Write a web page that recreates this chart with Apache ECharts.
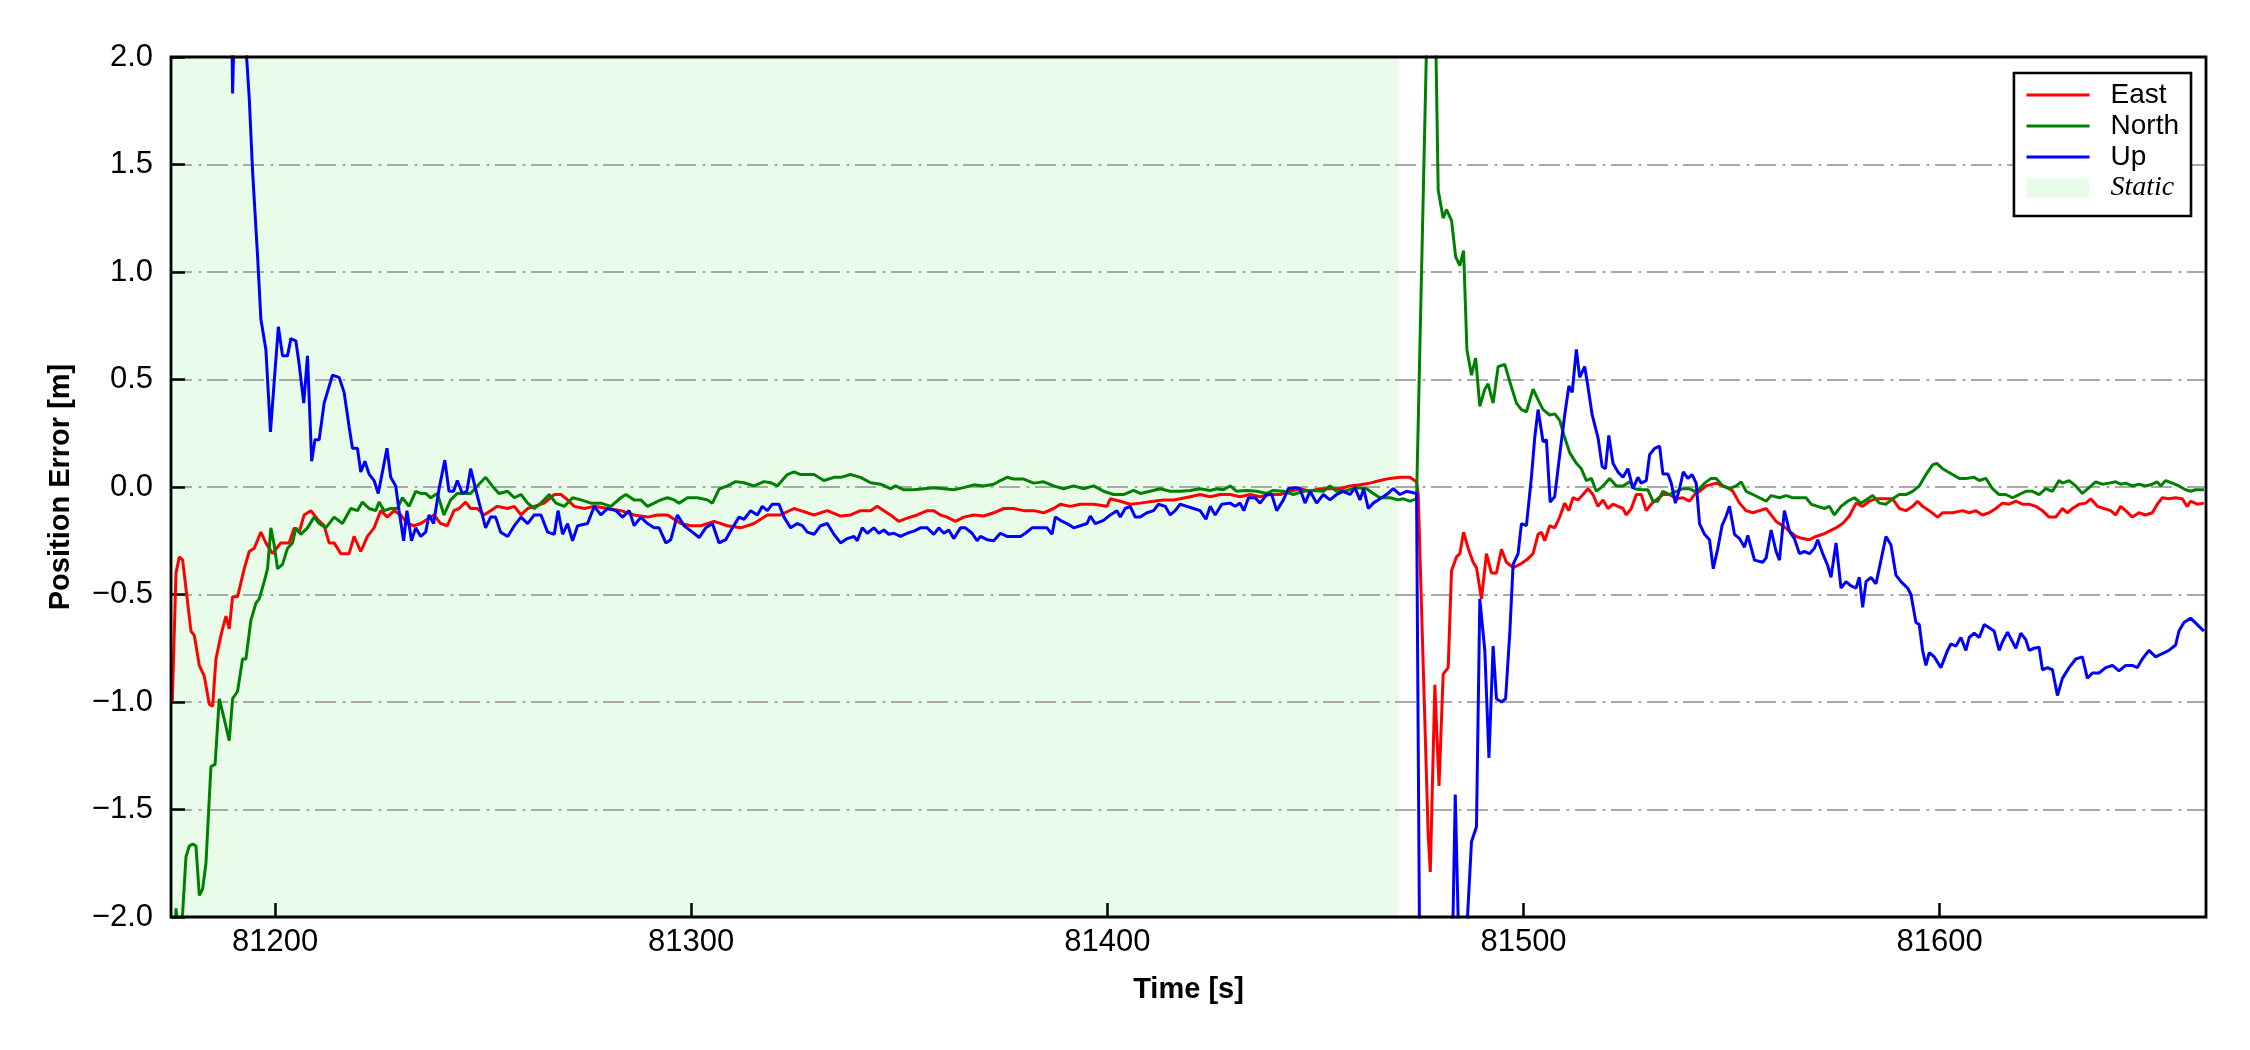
<!DOCTYPE html>
<html>
<head>
<meta charset="utf-8">
<title>Position Error</title>
<script src="https://cdn.jsdelivr.net/npm/echarts@6.0.0/dist/echarts.min.js"></script>
<style>
  html, body { margin: 0; padding: 0; background: #fff; }
  #chart { width: 2250px; height: 1050px; }
</style>
</head>
<body>
<div id="chart"></div>
<script>
// [time s, error m]
const east = [
  [81175.3,-1.0],[81176.2,-0.40],[81177.0,-0.325],[81177.8,-0.34],[81179.8,-0.67],[81180.6,-0.69],[81181.8,-0.83],[81183.0,-0.88],
  [81184.2,-1.01],[81185.0,-1.02],[81185.8,-0.80],[81187.0,-0.69],[81188.2,-0.60],[81189.0,-0.66],[81189.8,-0.51],[81191.0,-0.51],
  [81192.6,-0.38],[81193.8,-0.30],[81195.0,-0.285],[81196.6,-0.21],[81197.8,-0.26],[81199.4,-0.31],[81201.4,-0.26],[81203.4,-0.26],
  [81204.6,-0.19],[81205.8,-0.21],[81207.0,-0.13],[81208.6,-0.11],[81210.2,-0.15],[81211.8,-0.18],[81213.0,-0.26],[81214.2,-0.26],
  [81215.8,-0.31],[81217.8,-0.31],[81219.0,-0.23],[81220.6,-0.30],[81222.2,-0.23],[81223.8,-0.19],[81225.4,-0.11],[81227.0,-0.14],
  [81228.6,-0.11],[81230.2,-0.13],[81231.8,-0.17],[81233.4,-0.18],[81235.0,-0.17],[81236.6,-0.15],[81238.2,-0.13],[81239.8,-0.17],
  [81241.4,-0.18],[81243.0,-0.11],[81244.2,-0.10],[81245.8,-0.07],[81247.0,-0.10],[81248.6,-0.10],[81250.2,-0.13],[81251.8,-0.11],
  [81253.4,-0.09],[81255.9,-0.10],[81257.5,-0.09],[81259.1,-0.13],[81260.7,-0.10],[81262.3,-0.09],[81264.7,-0.075],[81267.1,-0.035],
  [81268.7,-0.035],[81270.3,-0.06],[81271.9,-0.09],[81274.3,-0.10],[81276.7,-0.09],[81279.9,-0.10],[81283.1,-0.11],[81286.3,-0.13],
  [81289.5,-0.14],[81291.9,-0.13],[81294.3,-0.13],[81297.5,-0.17],[81299.9,-0.18],[81302.3,-0.18],[81305.5,-0.16],[81308.7,-0.18],
  [81311.9,-0.19],[81315.1,-0.17],[81316.7,-0.15],[81318.3,-0.13],[81321.5,-0.13],[81324.7,-0.10],[81326.3,-0.11],[81329.5,-0.13],
  [81332.7,-0.11],[81335.9,-0.135],[81338.3,-0.13],[81340.7,-0.11],[81343.1,-0.11],[81344.7,-0.09],[81346.3,-0.11],[81347.9,-0.13],
  [81349.9,-0.16],[81351.9,-0.145],[81354.3,-0.13],[81356.7,-0.11],[81358.3,-0.11],[81359.9,-0.13],[81361.5,-0.14],[81363.5,-0.16],
  [81365.5,-0.14],[81367.9,-0.13],[81370.3,-0.135],[81372.7,-0.12],[81375.1,-0.10],[81377.5,-0.10],[81379.9,-0.11],[81382.3,-0.11],
  [81384.7,-0.12],[81387.1,-0.10],[81388.7,-0.08],[81391.1,-0.09],[81393.5,-0.08],[81396.7,-0.08],[81399.9,-0.09],[81400.7,-0.055],
  [81403.1,-0.066],[81405.5,-0.08],[81407.9,-0.075],[81411.1,-0.066],[81413.5,-0.06],[81415.9,-0.06],[81417.5,-0.055],[81419.9,-0.045],
  [81422.3,-0.035],[81424.7,-0.045],[81427.1,-0.035],[81429.5,-0.035],[81431.9,-0.045],[81434.3,-0.035],[81436.7,-0.045],[81439.1,-0.035],
  [81441.5,-0.035],[81443.9,-0.02],[81446.3,-0.008],[81448.7,-0.02],[81451.1,-0.008],[81453.5,-0.008],[81455.9,-0.008],[81458.3,0.005],
  [81460.7,0.01],[81463.1,0.018],[81465.5,0.03],[81467.9,0.04],[81470.3,0.045],[81472.7,0.045],[81474.3,0.024],[81474.7,-0.035],
  [81475.9,-0.83],[81477.1,-1.62],[81477.6,-1.79],[81478.7,-0.92],[81479.7,-1.39],[81480.7,-0.87],[81481.9,-0.84],[81482.7,-0.39],
  [81483.9,-0.325],[81484.7,-0.31],[81485.6,-0.21],[81486.7,-0.285],[81487.9,-0.35],[81488.7,-0.375],[81489.9,-0.52],[81491.1,-0.31],
  [81492.3,-0.40],[81493.5,-0.40],[81494.7,-0.29],[81495.9,-0.35],[81497.5,-0.375],[81499.1,-0.36],[81500.7,-0.34],[81502.3,-0.31],
  [81503.5,-0.22],[81504.3,-0.21],[81505.1,-0.25],[81506.3,-0.18],[81507.5,-0.19],[81508.7,-0.14],[81509.9,-0.075],[81510.9,-0.11],
  [81511.9,-0.05],[81513.1,-0.06],[81514.3,-0.035],[81515.5,-0.008],[81516.7,-0.035],[81517.9,-0.09],[81519.1,-0.06],[81520.3,-0.10],
  [81521.5,-0.08],[81522.7,-0.09],[81523.9,-0.10],[81524.7,-0.13],[81525.9,-0.10],[81527.1,-0.035],[81528.3,-0.035],[81529.5,-0.11],
  [81530.7,-0.08],[81531.9,-0.06],[81533.5,-0.035],[81535.1,-0.035],[81536.7,-0.055],[81538.3,-0.05],[81539.9,-0.066],[81541.1,-0.035],
  [81542.3,-0.02],[81543.9,0.005],[81546.3,0.018],[81547.9,0.005],[81549.5,-0.008],[81550.3,-0.02],[81551.9,-0.075],[81553.5,-0.11],
  [81555.1,-0.12],[81556.7,-0.11],[81558.3,-0.10],[81559.5,-0.13],[81560.7,-0.16],[81562.3,-0.18],[81563.9,-0.205],[81565.5,-0.23],
  [81567.1,-0.24],[81568.7,-0.245],[81570.3,-0.23],[81571.9,-0.22],[81573.5,-0.205],[81575.1,-0.19],[81576.7,-0.17],[81578.3,-0.135],
  [81579.9,-0.075],[81581.5,-0.09],[81583.1,-0.066],[81584.7,-0.055],[81587.1,-0.055],[81588.7,-0.055],[81590.3,-0.10],[81591.9,-0.11],
  [81593.5,-0.09],[81594.7,-0.066],[81595.9,-0.09],[81597.5,-0.11],[81599.5,-0.14],[81600.7,-0.12],[81603.1,-0.12],[81605.5,-0.11],
  [81607.1,-0.12],[81608.7,-0.11],[81610.3,-0.13],[81611.9,-0.12],[81613.5,-0.10],[81615.1,-0.075],[81616.7,-0.08],[81618.3,-0.066],
  [81619.9,-0.08],[81621.5,-0.08],[81623.1,-0.09],[81624.7,-0.11],[81626.3,-0.14],[81627.9,-0.14],[81629.5,-0.10],[81630.7,-0.12],
  [81631.9,-0.10],[81633.5,-0.08],[81635.1,-0.075],[81636.3,-0.055],[81637.9,-0.09],[81639.5,-0.10],[81641.1,-0.11],[81642.3,-0.13],
  [81643.5,-0.09],[81644.7,-0.11],[81646.3,-0.14],[81647.9,-0.12],[81649.5,-0.13],[81651.1,-0.12],[81652.3,-0.08],[81653.5,-0.05],
  [81655.1,-0.055],[81656.7,-0.05],[81658.3,-0.055],[81659.5,-0.09],[81660.3,-0.066],[81661.9,-0.08],[81663.5,-0.075]
];

const north = [
  [81175.4,-2.3],[81176.2,-1.96],[81177.0,-2.1],[81177.8,-1.98],[81178.6,-1.72],[81179.4,-1.67],[81180.2,-1.66],[81181.0,-1.67],
  [81181.8,-1.90],[81182.6,-1.87],[81183.4,-1.75],[81184.6,-1.30],[81185.6,-1.29],[81186.6,-0.985],[81187.8,-1.08],[81189.0,-1.18],
  [81189.8,-0.985],[81191.0,-0.95],[81192.2,-0.80],[81193.0,-0.80],[81194.2,-0.62],[81195.4,-0.54],[81196.2,-0.52],[81197.4,-0.44],
  [81198.2,-0.38],[81199.0,-0.19],[81199.8,-0.27],[81200.6,-0.38],[81201.8,-0.36],[81203.0,-0.285],[81204.2,-0.26],[81205.0,-0.19],
  [81206.2,-0.22],[81207.8,-0.19],[81209.4,-0.14],[81210.6,-0.17],[81212.2,-0.19],[81214.2,-0.14],[81216.2,-0.17],[81218.2,-0.10],
  [81219.8,-0.11],[81221.0,-0.07],[81222.6,-0.10],[81224.2,-0.11],[81225.0,-0.07],[81226.2,-0.11],[81227.8,-0.10],[81229.4,-0.10],
  [81230.6,-0.05],[81232.2,-0.09],[81233.8,-0.02],[81235.0,-0.03],[81236.2,-0.03],[81237.4,-0.05],[81239.0,-0.03],[81240.6,-0.13],
  [81242.2,-0.06],[81243.8,-0.03],[81245.4,-0.03],[81247.0,-0.03],[81248.6,0.005],[81250.6,0.045],[81252.2,0.005],[81253.8,-0.03],
  [81255.9,-0.02],[81257.5,-0.05],[81259.1,-0.035],[81260.7,-0.075],[81262.3,-0.10],[81263.9,-0.075],[81265.9,-0.035],[81267.5,-0.075],
  [81269.5,-0.09],[81271.5,-0.05],[81273.5,-0.06],[81275.9,-0.075],[81278.3,-0.075],[81280.7,-0.09],[81283.1,-0.05],[81284.3,-0.035],
  [81286.3,-0.06],[81287.9,-0.06],[81289.5,-0.09],[81291.1,-0.075],[81292.7,-0.06],[81294.3,-0.05],[81295.9,-0.06],[81297.1,-0.075],
  [81299.1,-0.05],[81301.5,-0.05],[81303.9,-0.06],[81305.1,-0.075],[81306.7,-0.01],[81308.7,0.005],[81310.7,0.025],[81312.7,0.02],
  [81315.1,0.005],[81317.5,0.025],[81319.1,0.02],[81320.7,0.005],[81323.1,0.058],[81324.7,0.07],[81326.3,0.058],[81329.5,0.058],
  [81331.9,0.03],[81334.3,0.045],[81335.9,0.045],[81338.3,0.058],[81340.7,0.045],[81343.1,0.02],[81345.5,0.013],[81347.9,-0.008],
  [81349.1,0.005],[81351.1,-0.013],[81353.5,-0.013],[81355.9,-0.008],[81358.3,-0.003],[81360.7,-0.008],[81363.1,-0.013],[81365.5,-0.003],
  [81367.9,0.01],[81370.3,0.005],[81372.7,0.013],[81374.3,0.03],[81375.9,0.045],[81377.5,0.037],[81379.9,0.037],[81382.3,0.018],
  [81384.7,0.024],[81387.1,0.005],[81389.5,-0.008],[81391.9,0.005],[81394.3,-0.008],[81396.7,0.005],[81399.1,-0.02],[81401.5,-0.035],
  [81403.9,-0.035],[81406.3,-0.016],[81407.9,-0.03],[81410.3,-0.02],[81412.7,-0.008],[81415.1,-0.02],[81417.5,-0.02],[81419.9,-0.016],
  [81422.3,-0.008],[81424.7,-0.016],[81426.3,-0.008],[81427.9,-0.013],[81429.5,0.005],[81431.1,-0.02],[81433.5,-0.016],[81435.9,-0.02],
  [81438.3,-0.03],[81439.9,-0.016],[81442.3,-0.02],[81444.7,-0.035],[81447.1,-0.02],[81449.5,-0.016],[81451.9,-0.02],[81453.5,0.005],
  [81455.1,-0.02],[81457.5,-0.016],[81459.9,-0.003],[81462.3,-0.008],[81463.9,-0.03],[81465.5,-0.05],[81467.9,-0.05],[81469.9,-0.06],
  [81471.1,-0.055],[81472.7,-0.066],[81474.3,-0.055],[81478.0,3.2],[81479.5,1.38],[81480.7,1.25],[81481.5,1.29],[81482.7,1.24],
  [81483.7,1.07],[81484.7,1.03],[81485.6,1.10],[81486.4,0.64],[81487.5,0.52],[81488.5,0.60],[81489.5,0.375],[81490.7,0.455],
  [81491.5,0.48],[81492.7,0.39],[81493.9,0.56],[81495.5,0.57],[81496.7,0.49],[81498.3,0.39],[81499.5,0.36],[81500.7,0.35],
  [81502.3,0.455],[81503.9,0.39],[81504.7,0.36],[81506.3,0.335],[81507.5,0.34],[81508.7,0.31],[81509.9,0.23],[81511.1,0.16],
  [81512.7,0.11],[81513.9,0.085],[81515.1,0.03],[81516.3,0.04],[81517.5,-0.02],[81519.1,0.005],[81520.7,0.04],[81522.3,0.005],
  [81523.9,0.005],[81525.5,0.024],[81526.7,-0.008],[81528.3,-0.013],[81529.9,-0.013],[81531.1,-0.066],[81532.3,-0.066],[81533.5,-0.02],
  [81535.1,-0.035],[81536.7,-0.02],[81538.3,-0.008],[81539.9,-0.008],[81541.1,-0.02],[81542.3,-0.008],[81543.5,0.018],[81545.1,0.04],
  [81546.3,0.04],[81547.9,0.005],[81549.5,-0.008],[81551.1,0.005],[81552.3,0.024],[81553.5,-0.02],[81555.1,-0.035],[81556.7,-0.05],
  [81558.3,-0.066],[81559.5,-0.04],[81561.5,-0.05],[81563.1,-0.04],[81564.7,-0.05],[81566.3,-0.05],[81567.9,-0.05],[81569.1,-0.08],
  [81570.7,-0.09],[81572.3,-0.10],[81573.5,-0.09],[81574.7,-0.13],[81576.3,-0.09],[81577.9,-0.066],[81579.5,-0.05],[81581.1,-0.075],
  [81582.3,-0.06],[81583.9,-0.04],[81585.5,-0.075],[81587.1,-0.08],[81588.7,-0.055],[81590.3,-0.035],[81591.9,-0.035],[81593.5,-0.02],
  [81595.1,0.005],[81596.7,0.058],[81598.3,0.103],[81599.3,0.11],[81600.7,0.085],[81603.1,0.058],[81604.7,0.04],[81606.3,0.04],
  [81608.3,0.045],[81609.5,0.03],[81611.1,0.04],[81612.7,-0.008],[81614.3,-0.035],[81615.9,-0.035],[81617.5,-0.05],[81619.1,-0.035],
  [81620.7,-0.02],[81622.3,-0.02],[81623.9,-0.035],[81625.5,-0.008],[81627.1,-0.02],[81628.7,0.03],[81629.5,0.018],[81631.1,0.03],
  [81632.7,0.005],[81634.3,-0.03],[81635.9,-0.003],[81637.5,0.024],[81639.1,0.013],[81640.7,0.018],[81642.3,0.024],[81643.5,0.013],
  [81644.7,0.018],[81646.3,0.005],[81647.9,0.013],[81649.5,0.005],[81651.1,0.013],[81652.3,0.024],[81653.1,0.005],[81654.3,0.03],
  [81655.9,0.018],[81657.5,0.005],[81659.1,-0.013],[81660.3,-0.02],[81661.5,-0.013],[81663.5,-0.013]
];

const up = [
  [81175.3,4.0],[81187.0,3.0],[81189.4,2.5],[81189.8,1.83],[81190.4,2.3],[81192.6,2.2],[81193.0,2.05],[81193.8,1.81],
  [81194.6,1.47],[81195.8,1.075],[81196.6,0.78],[81197.8,0.64],[81198.9,0.256],[81199.8,0.49],[81200.8,0.745],[81201.8,0.61],
  [81203.0,0.61],[81203.8,0.69],[81205.0,0.68],[81205.8,0.57],[81206.9,0.39],[81207.8,0.61],[81208.8,0.12],[81209.6,0.22],
  [81210.6,0.22],[81211.8,0.39],[81213.8,0.52],[81215.4,0.51],[81216.6,0.44],[81217.8,0.28],[81218.6,0.18],[81219.8,0.18],
  [81220.6,0.07],[81221.6,0.12],[81222.6,0.06],[81223.8,0.03],[81224.8,-0.03],[81225.8,0.07],[81226.9,0.18],[81227.8,0.045],
  [81229.0,0.005],[81229.8,-0.11],[81230.9,-0.25],[81231.7,-0.11],[81232.8,-0.25],[81233.8,-0.19],[81235.0,-0.23],[81236.2,-0.21],
  [81237.0,-0.13],[81238.1,-0.17],[81239.4,-0.01],[81240.8,0.125],[81241.8,-0.02],[81242.9,-0.02],[81243.8,0.03],[81245.0,-0.03],
  [81246.1,-0.02],[81247.0,0.085],[81248.2,-0.01],[81249.4,-0.10],[81250.6,-0.19],[81251.8,-0.14],[81253.0,-0.14],[81254.2,-0.21],
  [81255.9,-0.23],[81257.5,-0.18],[81259.1,-0.14],[81260.7,-0.17],[81262.3,-0.13],[81263.9,-0.13],[81265.5,-0.21],[81267.1,-0.22],
  [81268.0,-0.11],[81269.1,-0.22],[81270.3,-0.17],[81271.5,-0.25],[81272.7,-0.18],[81275.1,-0.17],[81276.7,-0.09],[81278.3,-0.13],
  [81279.9,-0.10],[81281.9,-0.11],[81283.5,-0.14],[81285.1,-0.11],[81286.3,-0.18],[81287.9,-0.14],[81289.5,-0.17],[81291.1,-0.19],
  [81292.3,-0.19],[81293.9,-0.26],[81295.1,-0.245],[81296.7,-0.13],[81298.3,-0.18],[81300.3,-0.21],[81301.9,-0.235],[81303.5,-0.19],
  [81305.1,-0.17],[81306.7,-0.26],[81308.3,-0.245],[81309.9,-0.19],[81311.5,-0.14],[81312.7,-0.15],[81314.3,-0.11],[81315.9,-0.13],
  [81317.1,-0.09],[81318.3,-0.11],[81319.5,-0.08],[81321.1,-0.08],[81322.3,-0.14],[81323.9,-0.19],[81325.5,-0.17],[81326.7,-0.18],
  [81327.9,-0.21],[81329.5,-0.22],[81331.1,-0.18],[81332.7,-0.17],[81334.3,-0.22],[81335.9,-0.26],[81337.5,-0.24],[81339.1,-0.23],
  [81339.9,-0.25],[81341.1,-0.19],[81342.3,-0.215],[81343.9,-0.19],[81345.1,-0.215],[81346.3,-0.20],[81347.5,-0.22],[81348.7,-0.215],
  [81350.3,-0.23],[81351.9,-0.215],[81353.5,-0.205],[81355.1,-0.19],[81356.7,-0.19],[81358.3,-0.22],[81359.5,-0.19],[81360.7,-0.215],
  [81361.9,-0.20],[81363.1,-0.24],[81364.7,-0.19],[81365.9,-0.19],[81367.5,-0.215],[81368.7,-0.25],[81369.5,-0.23],[81371.1,-0.245],
  [81372.7,-0.25],[81374.3,-0.215],[81375.9,-0.23],[81377.5,-0.23],[81379.1,-0.23],[81380.3,-0.215],[81381.9,-0.19],[81383.9,-0.19],
  [81385.5,-0.19],[81386.7,-0.22],[81387.5,-0.14],[81388.7,-0.155],[81390.3,-0.17],[81391.9,-0.19],[81393.5,-0.18],[81395.1,-0.17],
  [81395.9,-0.135],[81397.1,-0.17],[81399.1,-0.155],[81400.7,-0.13],[81402.3,-0.11],[81403.1,-0.14],[81404.3,-0.10],[81405.5,-0.09],
  [81406.7,-0.14],[81407.9,-0.14],[81409.5,-0.12],[81411.1,-0.11],[81412.3,-0.08],[81413.9,-0.09],[81415.1,-0.13],[81416.3,-0.11],
  [81417.5,-0.08],[81419.1,-0.09],[81420.7,-0.10],[81422.3,-0.11],[81423.7,-0.15],[81424.7,-0.09],[81425.9,-0.13],[81427.5,-0.08],
  [81429.5,-0.075],[81430.7,-0.09],[81431.9,-0.075],[81432.8,-0.11],[81433.9,-0.05],[81435.5,-0.05],[81436.7,-0.075],[81438.3,-0.035],
  [81439.5,-0.035],[81440.7,-0.11],[81442.3,-0.06],[81443.5,-0.008],[81445.1,-0.003],[81446.3,-0.008],[81447.5,-0.075],[81448.7,-0.02],
  [81450.3,-0.075],[81451.9,-0.035],[81453.5,-0.06],[81455.1,-0.035],[81456.7,-0.02],[81458.3,-0.035],[81459.5,-0.003],[81460.7,-0.06],
  [81461.6,-0.008],[81462.7,-0.10],[81463.9,-0.075],[81465.5,-0.055],[81467.1,-0.035],[81468.7,-0.008],[81470.3,-0.035],[81471.9,-0.02],
  [81474.3,-0.03],[81475.5,-3.5],[81482.6,-2.5],[81483.6,-1.43],[81484.9,-2.5],[81486.0,-2.2],[81487.5,-1.65],[81488.7,-1.58],
  [81489.5,-0.52],[81490.7,-0.76],[81491.7,-1.26],[81492.7,-0.74],[81493.5,-0.985],[81494.7,-1.0],[81495.7,-0.985],[81496.7,-0.68],
  [81497.5,-0.36],[81498.7,-0.31],[81499.5,-0.17],[81500.7,-0.18],[81501.9,0.045],[81502.7,0.23],[81503.5,0.36],[81503.9,0.367],
  [81504.7,0.21],[81505.5,0.22],[81506.4,-0.07],[81507.5,-0.045],[81508.7,0.15],[81509.9,0.335],[81510.9,0.47],[81511.7,0.44],
  [81512.7,0.64],[81513.5,0.51],[81514.7,0.56],[81515.5,0.465],[81516.5,0.335],[81517.9,0.23],[81518.9,0.095],[81519.7,0.085],
  [81520.5,0.24],[81521.5,0.11],[81522.7,0.07],[81523.9,0.045],[81525.1,0.085],[81526.3,-0.008],[81527.5,0.045],[81528.3,0.018],
  [81529.5,0.03],[81530.3,0.15],[81531.5,0.18],[81532.7,0.19],[81533.5,0.06],[81534.7,0.06],[81535.5,0.018],[81536.5,-0.075],
  [81537.5,-0.008],[81538.4,0.07],[81539.5,0.04],[81540.5,0.058],[81541.5,0.018],[81542.3,-0.17],[81543.5,-0.22],[81544.7,-0.245],
  [81545.6,-0.38],[81546.7,-0.285],[81547.7,-0.18],[81548.7,-0.135],[81549.5,-0.09],[81550.7,-0.22],[81551.9,-0.24],[81553.1,-0.28],
  [81553.9,-0.225],[81555.5,-0.34],[81557.5,-0.35],[81558.3,-0.33],[81559.5,-0.20],[81560.7,-0.30],[81561.5,-0.34],[81562.7,-0.11],
  [81563.9,-0.205],[81565.1,-0.24],[81566.3,-0.31],[81567.5,-0.30],[81568.7,-0.31],[81569.9,-0.285],[81570.7,-0.245],[81571.9,-0.31],
  [81573.1,-0.365],[81573.9,-0.42],[81575.1,-0.26],[81576.3,-0.47],[81577.5,-0.44],[81578.7,-0.46],[81579.9,-0.47],[81580.7,-0.42],
  [81581.5,-0.56],[81582.3,-0.44],[81583.5,-0.42],[81584.7,-0.45],[81585.9,-0.34],[81587.1,-0.23],[81588.3,-0.27],[81589.5,-0.41],
  [81590.7,-0.44],[81592.3,-0.47],[81593.1,-0.50],[81594.3,-0.63],[81595.1,-0.64],[81595.9,-0.76],[81596.7,-0.83],[81597.5,-0.77],
  [81598.7,-0.79],[81600.3,-0.84],[81601.9,-0.76],[81602.7,-0.73],[81603.9,-0.74],[81605.1,-0.70],[81606.3,-0.76],[81607.1,-0.70],
  [81608.3,-0.68],[81609.5,-0.70],[81610.7,-0.64],[81611.9,-0.655],[81613.1,-0.67],[81614.3,-0.76],[81615.1,-0.72],[81616.3,-0.675],
  [81617.5,-0.72],[81618.3,-0.75],[81619.5,-0.68],[81620.7,-0.71],[81621.5,-0.76],[81622.7,-0.75],[81623.9,-0.745],[81624.7,-0.85],
  [81625.9,-0.84],[81627.1,-0.85],[81628.3,-0.97],[81629.5,-0.89],[81631.1,-0.84],[81632.7,-0.80],[81634.3,-0.79],[81635.5,-0.89],
  [81636.7,-0.865],[81638.3,-0.865],[81639.9,-0.84],[81641.5,-0.83],[81643.1,-0.855],[81644.7,-0.83],[81646.3,-0.83],[81647.5,-0.84],
  [81648.7,-0.80],[81650.3,-0.76],[81651.9,-0.79],[81653.5,-0.775],[81655.1,-0.76],[81656.7,-0.735],[81657.5,-0.67],[81658.7,-0.63],
  [81660.3,-0.61],[81661.9,-0.64],[81663.5,-0.67]
];

const xRange = [81175, 81664];
const xTicks = [81200, 81300, 81400, 81500, 81600];
const staticSpan = [81175, 81470];   // static interval (shaded)

const FONT = '"Liberation Sans", Arial, sans-serif';
const STATIC_COLOR = '#e9fce9';
const chart = echarts.init(document.getElementById('chart'));

const lineSeries = (name, color, data) => ({
  name,
  type: 'line',
  data,
  z: 3,
  symbol: 'none',
  showSymbol: false,
  clip: true,
  color,
  lineStyle: { color, width: 3 },
  emphasis: { disabled: true }
});

// legend entry for a plain line: hide the marker the line icon carries
const lineEntry = name => ({ name, itemStyle: { opacity: 0 } });

chart.setOption({
  animation: false,
  backgroundColor: '#fff',
  grid: {
    left: 171, right: 44, top: 57, bottom: 133,
    show: true, z: 10,
    backgroundColor: 'rgba(0,0,0,0)',
    borderColor: '#000', borderWidth: 2.8
  },
  legend: {
    orient: 'vertical',
    right: 59, top: 73,
    itemWidth: 63, itemHeight: 20, itemGap: 3,
    padding: [8, 12, 14, 11],
    borderColor: '#000', borderWidth: 2.6, borderRadius: 0,
    backgroundColor: '#fff',
    lineStyle: { width: 3.2 },
    textStyle: { fontFamily: FONT, fontSize: 28, lineHeight: 28, color: '#000', padding: [0, 0, 0, 16] },
    data: [
      lineEntry('East'), lineEntry('North'), lineEntry('Up'),
      { name: 'Static', icon: 'rect', itemStyle: { color: STATIC_COLOR, opacity: 1 },
        textStyle: { fontFamily: '"Liberation Serif", "Times New Roman", serif', fontStyle: 'italic',
          fontSize: 28, lineHeight: 28, padding: [0, 0, 0, 16] } }
    ]
  },
  xAxis: {
    type: 'value',
    z: 2,
    min: xRange[0], max: xRange[1],
    name: 'Time [s]',
    nameLocation: 'middle', nameGap: 58,
    nameTextStyle: { fontFamily: FONT, fontSize: 29, fontWeight: 'bold', color: '#000' },
    axisLine: { show: false, onZero: false },
    axisTick: { show: true, inside: true, length: 14, customValues: xTicks,
      lineStyle: { color: '#000', width: 2.5 } },
    axisLabel: { customValues: xTicks, margin: 10, fontFamily: FONT, fontSize: 31, color: '#000',
      formatter: v => String(v) },
    splitLine: { show: false }
  },
  yAxis: {
    type: 'value',
    z: 2,
    min: -2, max: 2, interval: 0.5,
    name: 'Position Error [m]',
    nameLocation: 'middle', nameRotate: 90, nameGap: 96,
    nameTextStyle: { fontFamily: FONT, fontSize: 29, fontWeight: 'bold', color: '#000' },
    axisLine: { show: false, onZero: false },
    axisTick: { show: true, inside: true, length: 14, lineStyle: { color: '#000', width: 2.5 } },
    axisLabel: {
      margin: 18, fontFamily: FONT, fontSize: 31, color: '#000',
      formatter: v => (v < 0 ? '\u2212' : '') + Math.abs(v).toFixed(1)
    },
    splitLine: { show: true, lineStyle: { color: '#a9a9a9', width: 2.2, type: [21, 6.5, 3, 5.5] } }
  },
  series: [
    {
      name: 'Static',
      type: 'line',
      data: [],
      z: 1,
      color: STATIC_COLOR,
      itemStyle: { color: STATIC_COLOR },
      lineStyle: { color: STATIC_COLOR },
      markArea: {
        silent: true,
        itemStyle: { color: STATIC_COLOR, opacity: 1 },
        data: [[{ xAxis: staticSpan[0] }, { xAxis: staticSpan[1] }]]
      }
    },
    lineSeries('East', '#ff0000', east),
    lineSeries('North', '#008000', north),
    lineSeries('Up', '#0000ff', up)
  ]
});
</script>
</body>
</html>
